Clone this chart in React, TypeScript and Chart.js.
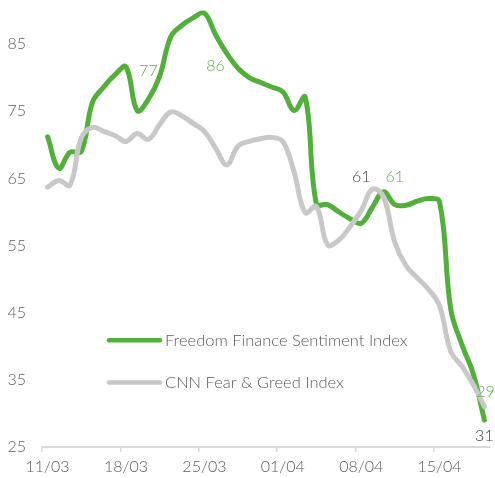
import React, { useEffect, useRef } from 'react';
import { Chart, registerables } from 'chart.js';

Chart.register(...registerables);

const dates = [
  '11/03', '12/03', '13/03', '14/03', '15/03', '16/03', '17/03', '18/03', '19/03', '20/03',
  '21/03', '22/03', '23/03', '24/03', '25/03', '26/03', '27/03', '28/03', '29/03', '30/03',
  '31/03', '01/04', '02/04', '03/04', '04/04', '05/04', '06/04', '07/04', '08/04', '09/04',
  '10/04', '11/04', '12/04', '13/04', '14/04', '15/04', '16/04', '17/04', '18/04', '19/04',
];

const freedomIndex = [
  71.2, 66.5, 68.9, 69.0, 76.3, 78.6, 80.4, 81.6, 75.1, 76.8,
  80.2, 86.1, 87.8, 88.9, 89.6, 86.4, 83.6, 81.4, 80.0, 79.3,
  78.6, 77.9, 75.1, 77.1, 61.2, 61.1, 60.0, 59.0, 58.3, 60.7,
  63.0, 61.1, 61.0, 61.6, 62.0, 61.5, 45.5, 40.2, 35.9, 29.0,
];

const cnnIndex = [
  63.7, 64.7, 64.0, 71.0, 72.6, 72.0, 71.4, 70.5, 71.7, 70.8,
  73.0, 74.9, 74.3, 73.2, 72.0, 69.5, 67.0, 69.8, 70.5, 70.9,
  71.1, 70.5, 66.0, 59.9, 60.8, 55.1, 55.8, 57.8, 60.2, 63.4,
  62.2, 55.5, 52.0, 50.2, 48.5, 46.0, 39.2, 37.0, 34.3, 31.0,
];

const seriesNames = ['Freedom Finance Sentiment Index', 'CNN Fear & Greed Index'];
const yTickValues = [25, 35, 45, 55, 65, 75, 85];
const xTickValues = [0, 7, 14, 21, 28, 35];

const noteTexts = ['77', '86', '61', '61', '29', '31'];
const noteSeries = [0, 0, 1, 0, 0, 1];
const noteIndex = [9, 15, 28, 31, 39.1, 39];
const noteLevel = [81, 81.7, 65.2, 65.2, 33.2, 26.7];

const GREEN = '#50b03a';
const GRAY = '#c8c8c8';
const TEXT = '#5a5a5a';
const NOTE_COLORS = ['#5eae48', '#404040'];
const FONT = 'Lato';
const WEIGHT = 300;

const overlayPlugin = {
  id: 'overlay',
  afterDatasetsDraw(chart: any) {
    const ctx = chart.ctx;
    const xs = chart.scales.x;
    const ys = chart.scales.y;
    const area = chart.chartArea;
    ctx.save();
    ctx.font = `${WEIGHT} 16px ${FONT}`;
    ctx.textAlign = 'center';
    ctx.textBaseline = 'middle';
    noteTexts.forEach((t, k) => {
      ctx.fillStyle = NOTE_COLORS[noteSeries[k]];
      ctx.fillText(t, xs.getPixelForValue(noteIndex[k] + 0.5), ys.getPixelForValue(noteLevel[k]));
    });
    const colors = [GREEN, GRAY];
    const lx = area.left + 65;
    const rows = [ys.getPixelForValue(40.9), ys.getPixelForValue(34.6)];
    ctx.font = `${WEIGHT} 16.5px ${FONT}`;
    ctx.textAlign = 'left';
    seriesNames.forEach((name, k) => {
      ctx.strokeStyle = colors[k];
      ctx.lineWidth = 4.5;
      ctx.lineCap = 'round';
      ctx.beginPath();
      ctx.moveTo(lx + 2, rows[k]);
      ctx.lineTo(lx + 53, rows[k]);
      ctx.stroke();
      ctx.fillStyle = TEXT;
      ctx.fillText(name, lx + 58, rows[k] + 0.5);
    });
    ctx.restore();
  },
};

const zeroPad = (s: any) => {
  s.paddingLeft = 0;
  s.paddingRight = 0;
  s.paddingTop = 0;
  s.paddingBottom = 0;
};

export default function App() {
  const ref = useRef<HTMLCanvasElement | null>(null);
  useEffect(() => {
    document.body.style.margin = '0';
    const canvas = ref.current;
    if (!canvas) return;
    const chart = new Chart(canvas, {
      type: 'line',
      data: {
        datasets: [
          {
            label: seriesNames[0],
            data: freedomIndex.map((v, i) => ({ x: i + 0.5, y: v })),
            borderColor: GREEN,
            backgroundColor: GREEN,
            borderWidth: 5,
            pointRadius: 0,
            tension: 0.4,
            borderCapStyle: 'round',
            borderJoinStyle: 'round',
            order: 1,
          },
          {
            label: seriesNames[1],
            data: cnnIndex.map((v, i) => ({ x: i + 0.5, y: v })),
            borderColor: GRAY,
            backgroundColor: GRAY,
            borderWidth: 5,
            pointRadius: 0,
            tension: 0.4,
            borderCapStyle: 'round',
            borderJoinStyle: 'round',
            order: 0,
          },
        ],
      },
      options: {
        responsive: false,
        animation: false,
        layout: { autoPadding: false, padding: { left: 8, right: 5, top: 10.5, bottom: 0 } },
        plugins: { legend: { display: false }, tooltip: { enabled: false } },
        scales: {
          x: {
            type: 'linear',
            min: 0,
            max: 40,
            afterBuildTicks: (s: any) => {
              s.ticks = xTickValues.map((v) => ({ value: v }));
            },
            afterFit: (s: any) => {
              zeroPad(s);
              s.height = 31;
            },
            ticks: {
              callback: (v: any) => dates[v as number] ?? '',
              labelOffset: 5.6,
              padding: 5,
              color: TEXT,
              font: { family: FONT, size: 16, weight: WEIGHT },
              maxRotation: 0,
              autoSkip: false,
            },
            grid: {
              display: true,
              drawOnChartArea: false,
              drawTicks: true,
              tickLength: 5,
              color: '#d9d9d9',
              lineWidth: 1.5,
            },
            border: { display: true, color: '#d9d9d9', width: 2 },
          },
          y: {
            min: 25,
            max: 90,
            afterBuildTicks: (s: any) => {
              s.ticks = yTickValues.map((v) => ({ value: v }));
            },
            afterFit: (s: any) => {
              zeroPad(s);
              s.width = 34;
            },
            ticks: {
              padding: 16,
              color: TEXT,
              font: { family: FONT, size: 16, weight: WEIGHT },
            },
            grid: { display: false, drawTicks: false },
            border: { display: false },
          },
        },
      },
      plugins: [overlayPlugin],
    } as any);
    return () => chart.destroy();
  }, []);
  return (
    <div style={{ width: 495, height: 478 }}>
      <canvas ref={ref} width={495} height={478} />
    </div>
  );
}
